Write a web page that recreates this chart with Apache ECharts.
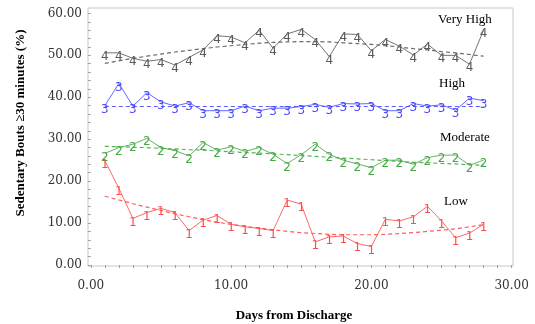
<!DOCTYPE html>
<html>
<head>
<meta charset="utf-8">
<script src="https://cdn.jsdelivr.net/npm/echarts@6/dist/echarts.min.js"></script>
<style>html,body{margin:0;padding:0;background:#fff}#c{width:535px;height:324px}</style>
</head>
<body>
<div id="c"></div>
<script>
var days = [1,2,3,4,5,6,7,8,9,10,11,12,13,14,15,16,17,18,19,20,21,22,23,24,25,26,27,28];
var veryHigh = [50.6,50.6,49.3,48.6,49.0,47.7,49.5,51.3,54.7,54.4,53.0,56.0,51.7,55.1,56.2,53.8,49.7,55.1,55.0,51.1,53.8,52.2,50.1,52.7,50.0,50.0,47.9,56.0];
var veryHighTrend = [48.1,48.7,49.3,49.8,50.3,50.8,51.2,51.6,52.0,52.3,52.6,52.9,53.1,53.2,53.3,53.3,53.2,53.0,52.8,52.6,52.3,52.0,51.6,51.3,50.9,50.6,50.2,49.8];
var high = [38.0,43.3,37.9,41.1,38.9,37.9,38.7,36.8,36.8,36.8,37.9,36.8,37.4,37.4,37.8,38.3,37.6,38.5,38.4,38.5,36.8,36.8,38.5,37.9,38.2,36.9,39.8,39.2];
var highTrend = [37.8,37.8,37.8,37.8,37.8,37.8,37.8,37.8,37.8,37.8,37.8,37.8,37.8,37.8,37.8,37.8,37.8,37.8,37.8,37.8,37.8,37.8,37.8,37.8,37.8,37.8,37.8,37.8];
var moderate = [26.6,28.0,28.8,30.2,28.0,27.3,26.0,29.2,27.4,28.2,27.1,28.0,26.4,24.2,26.3,28.8,26.4,25.0,24.1,23.2,25.0,25.0,24.0,25.6,26.2,26.2,23.8,25.0];
var moderateTrend = [28.3,28.2,28.1,28.0,27.8,27.7,27.5,27.4,27.2,27.0,26.8,26.7,26.5,26.3,26.1,25.9,25.7,25.5,25.3,25.1,24.9,24.7,24.5,24.4,24.2,24.1,23.9,23.8];
var low = [24.9,18.3,11.1,12.5,13.5,12.5,8.2,10.7,11.8,9.7,9.1,8.7,8.2,15.5,14.5,5.5,6.7,6.9,5.1,4.4,10.9,10.5,11.5,14.0,10.5,6.5,7.6,9.7];
var lowTrend = [16.4,15.5,14.6,13.8,13.0,12.2,11.5,10.8,10.2,9.7,9.2,8.8,8.4,8.0,7.7,7.5,7.3,7.2,7.2,7.2,7.3,7.5,7.7,8.0,8.3,8.6,9.1,9.6];
var groupNames = ['Very High','High','Moderate','Low'];
var markerChars = ['4','3','2','1'];
var xTicks = [0,10,20,30];
var yTicks = [0,10,20,30,40,50,60];
var xMinor = [0,1,2,3,4,5,6,7,8,9,10,11,12,13,14,15,16,17,18,19,20,21,22,23,24,25,26,27,28,29,30];
var yMinor = [0,2,4,6,8,10,12,14,16,18,20,22,24,26,28,30,32,34,36,38,40,42,44,46,48,50,52,54,56,58,60];

var colors = ['#5a5a5a','#4b4bff','#45a845','#ff4d4d'];
var values = [veryHigh, high, moderate, low];
var trends = [veryHighTrend, highTrend, moderateTrend, lowTrend];

function pairs(arr){ return days.map(function(d,i){ return [d, arr[i]]; }); }

var series = [];
for (var k = 0; k < 4; k++) {
  (function(k){
    series.push({
      type: 'line', name: groupNames[k] + ' trend', data: pairs(trends[k]),
      symbol: 'none', smooth: false, z: 2,
      lineStyle: { color: colors[k], width: 1.2, type: [4,3], opacity: 0.9 }
    });
    series.push({
      type: 'line', name: groupNames[k], data: pairs(values[k]),
      symbol: 'circle', symbolSize: 1, z: 3,
      itemStyle: { color: 'rgba(0,0,0,0)' },
      lineStyle: { color: colors[k], width: 1, opacity: 0.85 },
      label: {
        show: true, position: 'inside', offset: [0, 4],
        formatter: function(){ return markerChars[k]; },
        color: colors[k], fontFamily: 'DejaVu Sans', fontSize: 12
      }
    });
  })(k);
}

var chart = echarts.init(document.getElementById('c'), null, {renderer: 'canvas'});
chart.setOption({
  animation: false,
  backgroundColor: '#fff',
  grid: { left: 88, right: 22, top: 8, bottom: 58, show: true, borderColor: '#c8c8c8', borderWidth: 1 },
  xAxis: {
    type: 'value', min: -0.2, max: 30.1,
    axisLine: { show: false },
    splitLine: { show: false },
    axisTick: { show: true, customValues: xMinor, length: 3, lineStyle: { color: '#a0a0a0' } },
    axisLabel: { customValues: xTicks, margin: 14, color: '#333', fontFamily: 'DejaVu Serif', fontSize: 12,
      formatter: function(v){ return v.toFixed(2); } }
  },
  yAxis: {
    type: 'value', min: -0.25, max: 61.3,
    axisLine: { show: false },
    splitLine: { show: false },
    axisTick: { show: true, customValues: yMinor, length: 3, lineStyle: { color: '#a0a0a0' } },
    axisLabel: { customValues: yTicks, margin: 6, color: '#333', fontFamily: 'DejaVu Serif', fontSize: 12,
      formatter: function(v){ return v.toFixed(2); } }
  },
  graphic: [
    { type: 'text', x: 294, y: 316, style: { text: 'Days from Discharge', fill: '#000', font: 'bold 13px "Liberation Serif"', textAlign: 'center', textVerticalAlign: 'middle' } },
    { type: 'text', x: 21, y: 123, rotation: Math.PI/2, style: { text: 'Sedentary Bouts \u226530 minutes (%)', fill: '#000', font: 'bold 13px "Liberation Serif"', textAlign: 'center', textVerticalAlign: 'middle' } },
    { type: 'text', x: 438, y: 20, style: { text: groupNames[0], fill: '#000', font: '13px "Liberation Serif"', textAlign: 'left', textVerticalAlign: 'middle' } },
    { type: 'text', x: 439, y: 84, style: { text: groupNames[1], fill: '#000', font: '13px "Liberation Serif"', textAlign: 'left', textVerticalAlign: 'middle' } },
    { type: 'text', x: 440, y: 138, style: { text: groupNames[2], fill: '#000', font: '13px "Liberation Serif"', textAlign: 'left', textVerticalAlign: 'middle' } },
    { type: 'text', x: 444, y: 202, style: { text: groupNames[3], fill: '#000', font: '13px "Liberation Serif"', textAlign: 'left', textVerticalAlign: 'middle' } }
  ],
  series: series
});
</script>
</body>
</html>
